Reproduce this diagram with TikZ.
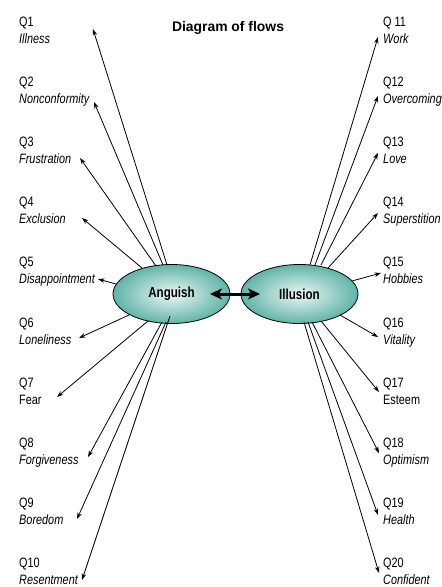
\documentclass[tikz,border=0pt]{standalone}
\usepackage{fontspec}
\setmainfont{Liberation Sans}
\newfontfamily\condfont[FakeStretch=0.8]{Liberation Sans}
\usetikzlibrary{shapes.geometric,arrows.meta}
\definecolor{tealout}{RGB}{96,180,168}
\definecolor{tealin}{RGB}{236,247,245}
\begin{document}
\begin{tikzpicture}[x=1pt,y=-1pt,
  qlab/.style={anchor=base west, inner sep=0pt, font=\condfont\fontsize{13.6}{16}\selectfont},
  ilab/.style={anchor=base west, inner sep=0pt, font=\condfont\itshape\fontsize{13.6}{16}\selectfont},
  bubble/.style={ellipse, draw=black, line width=0.8pt, minimum width=117pt, minimum height=59pt,
    inner sep=0pt, outer sep=0pt, shading=radial, inner color=tealin, outer color=tealout,
    font=\condfont\bfseries\fontsize{14.5}{16}\selectfont},
  flow/.style={-{Stealth[length=6.5pt,width=4.5pt]}, line width=0.8pt},
  bigflow/.style={{Stealth[length=12pt,width=11pt,inset=3pt]}-{Stealth[length=12pt,width=11pt,inset=3pt]}, line width=3pt}]
\useasboundingbox (0,0) rectangle (442,587);

\node[anchor=base, inner sep=0pt, font=\bfseries\fontsize{13.9}{16}\selectfont] (title) at (228,31) {Diagram of flows};

\node[bubble] (ang) at (171.5,294) {Anguish};
\node[bubble] (ill) at (299.5,294) {Illusion};

\draw[bigflow] ([xshift=-20pt]ang.east) -- ([xshift=19pt]ill.west);

% left labels
\foreach \i/\q/\t in {1/Q1/Illness,2/Q2/Nonconformity,3/Q3/Frustration,4/Q4/Exclusion,
  5/Q5/Disappointment,6/Q6/Loneliness,8/Q8/Forgiveness,9/Q9/Boredom,10/Q10/Resentment}
{
  \node[qlab] (q\i) at (19,{26+60.2*(\i-1)}) {\q};
  \node[ilab] (l\i) at (19,{43+60.2*(\i-1)}) {\t};
}
\node[qlab] (q7) at (19,387.2) {Q7};
\node[qlab] (l7) at (19,404.2) {Fear};

% right labels
\foreach \i/\q/\t in {11/Q 11/Work,12/Q12/Overcoming,13/Q13/Love,14/Q14/Superstition,
  15/Q15/Hobbies,16/Q16/Vitality,18/Q18/Optimism,19/Q19/Health,20/Q20/Confident}
{
  \node[qlab] (q\i) at (383,{26+60.2*(\i-11)}) {\q};
  \node[ilab] (l\i) at (383,{43+60.2*(\i-11)}) {\t};
}
\node[qlab] (q17) at (383,387.2) {Q17};
\node[qlab] (l17) at (383,404.2) {Esteem};

% flows
\foreach \i/\sx/\sy/\tx/\ty in {
  1/167/265/93/29, 2/163/265/94/102, 3/156/266/80/158, 4/142/268/82/218,
  5/116/284/98/279, 6/129/315/79/338, 7/148/321/57/397, 8/162/322/88/457,
  9/166/322/77/519, 10/170/316/82/580,
  11/310/265/378/37, 12/315/265/378/96, 13/321/265/378/153, 14/328/268/378/213,
  15/352/281/381/273, 16/340/315/378/337, 17/321/321/379/392, 18/312/322/379/453,
  19/308/322/378/515, 20/304/322/379/573}
{
  \coordinate (s\i) at (\sx,\sy);
  \coordinate (t\i) at (\tx,\ty);
  \draw[flow] (s\i) -- (t\i);
}
\end{tikzpicture}
\end{document}
